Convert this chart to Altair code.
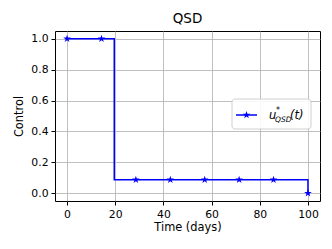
import altair as alt
import pandas as pd

# step line (control switches)
step_t = [0, 19.6, 100]
step_u = [1.0, 0.087, 0.0]
# sampled markers
mark_t = [0, 14.29, 28.57, 42.86, 57.14, 71.43, 85.71, 100]
mark_u = [1.0, 1.0, 0.087, 0.087, 0.087, 0.087, 0.087, 0.0]
x_ticks = [0, 20, 40, 60, 80, 100]
y_ticks = [0.0, 0.2, 0.4, 0.6, 0.8, 1.0]

STAR = ("M0,-1L0.2245,-0.309L0.9511,-0.309L0.3633,0.118L0.5878,0.809L0,0.382"
        "L-0.5878,0.809L-0.3633,0.118L-0.9511,-0.309L-0.2245,-0.309Z")
BLUE = "#0000ff"
FONT = "DejaVu Sans"

line_df = pd.DataFrame({"t": step_t, "u": step_u})
pts_df = pd.DataFrame({"t": mark_t, "u": mark_u})

xs = alt.Scale(domain=[-5, 105], nice=False, zero=False)
ys = alt.Scale(domain=[-0.05, 1.05], nice=False, zero=False)

common = dict(grid=True, gridColor="#b0b0b0", gridWidth=0.8, tickColor="black",
              tickSize=4, domain=False, labelFont=FONT, titleFont=FONT,
              labelFontSize=10.8, titleFontSize=11.4, titleFontWeight="normal",
              labelColor="black", titleColor="black", labelPadding=3,
              labelOverlap=False, labelFlush=False, labelBound=False)
xax = alt.Axis(values=x_ticks, tickCount=len(x_ticks), title="Time (days)",
               format="d", titlePadding=3, **common)
yax = alt.Axis(values=y_ticks, tickCount=len(y_ticks), title="Control",
               format=".1f", titlePadding=6, **common)

line = alt.Chart(line_df).mark_line(interpolate="step-after", color=BLUE,
                                    strokeWidth=1.5).encode(
    x=alt.X("t:Q", scale=xs, axis=xax),
    y=alt.Y("u:Q", scale=ys, axis=yax),
)
pts = alt.Chart(pts_df).mark_point(shape=STAR, filled=True, color=BLUE,
                                   size=64, opacity=1).encode(
    x=alt.X("t:Q", scale=xs, axis=xax),
    y=alt.Y("u:Q", scale=ys, axis=yax),
)

one = pd.DataFrame({"k": [0]})
lx0, lx1, ly0, ly1 = 177, 256, 68, 98
ly = 84
box = alt.Chart(one).mark_rect(fill="white", stroke="#cccccc", strokeWidth=1,
                               cornerRadius=3, opacity=0.9).encode(
    x=alt.value(lx0), x2=alt.value(lx1), y=alt.value(ly0), y2=alt.value(ly1))
lline = alt.Chart(one).mark_rule(color=BLUE, strokeWidth=1.5).encode(
    x=alt.value(181), x2=alt.value(202), y=alt.value(ly))
lstar = alt.Chart(one).mark_point(shape=STAR, filled=True, color=BLUE, size=64,
                                  opacity=1).encode(x=alt.value(191.5), y=alt.value(ly))
def txt(s, x, y, size, italic=True):
    return alt.Chart(one).mark_text(text=s, font=FONT, fontSize=size,
                                    fontStyle="italic" if italic else "normal",
                                    align="left", baseline="alphabetic",
                                    color="black").encode(x=alt.value(x), y=alt.value(y))
lu = txt("u", 214, 88, 11.5)
lsup = txt("*", 221, 82, 8)
lsub = txt("QSD", 220, 91, 7.5)
lt = txt("(t)", 235, 88, 11.5)

chart = alt.layer(line, pts, box, lline, lstar, lu, lsup, lsub, lt).properties(
    width=265, height=170,
    title=alt.Title("QSD", font=FONT, fontSize=13.5, fontWeight="normal",
                    color="black", anchor="middle", offset=6),
    autosize=alt.AutoSizeParams(type="none"),
    padding={"left": 47, "top": 23, "right": 4, "bottom": 40},
).configure_view(stroke="black", strokeWidth=1)

chart.save("out.html", embed_options={"renderer": "svg", "actions": False})
